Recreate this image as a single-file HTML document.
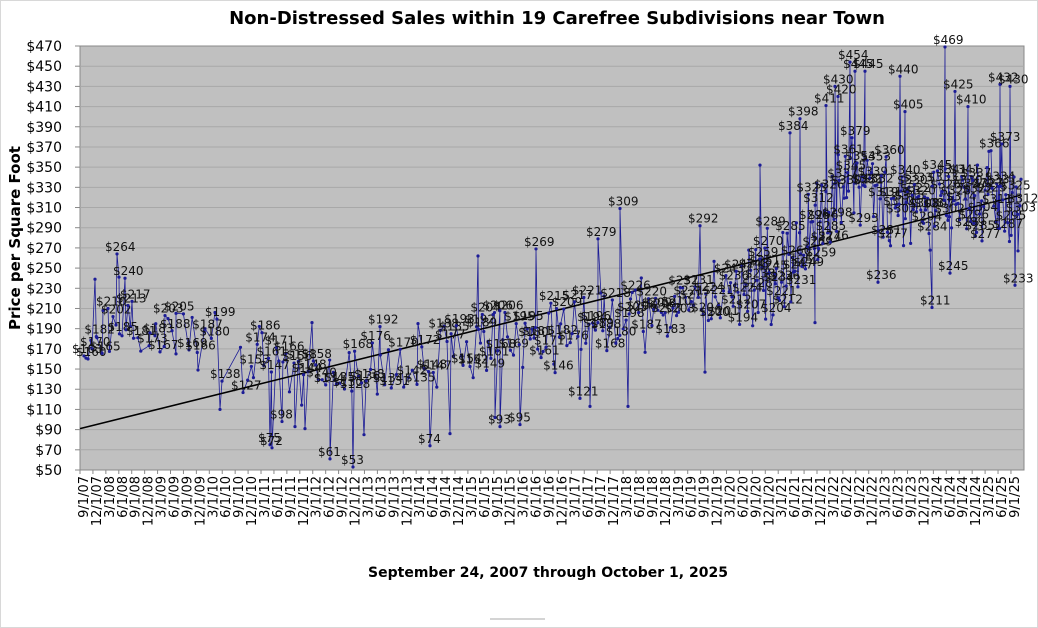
<!DOCTYPE html>
<html><head><meta charset="utf-8"><style>
body{margin:0;background:#fff;}
svg{display:block;font-family:"DejaVu Sans","Liberation Sans",sans-serif;}
</style></head><body>
<svg id="s" width="1038" height="628" viewBox="0 0 1038 628">
<rect x="0.5" y="0.5" width="1037" height="627" fill="#fff" stroke="#d8d8d8"/>
<text x="557" y="24" text-anchor="middle" font-size="18" font-weight="bold">Non-Distressed Sales within 19 Carefree Subdivisions near Town</text>
<text transform="translate(20,238) rotate(-90)" text-anchor="middle" font-size="15" font-weight="bold">Price per Square Foot</text>
<text x="548" y="577" text-anchor="middle" font-size="14" font-weight="bold">September 24, 2007 through October 1, 2025</text>
<rect x="80" y="46" width="944" height="424" fill="#c0c0c0" stroke="#888"/>
<g id="grid"></g><g id="yl"></g><g id="xl"></g><g id="data"></g>
<g stroke="#aaa" fill="none"><line x1="490" y1="619" x2="545" y2="619"/></g>
</svg>
<script>
var NS="http://www.w3.org/2000/svg";
function el(p,t,a,txt){var e=document.createElementNS(NS,t);for(var k in a)e.setAttribute(k,a[k]);if(txt!=null)e.textContent=txt;p.appendChild(e);return e;}
function Y(v){return 470-(v-50)*424/420;}
var g=document.getElementById('grid'),yl=document.getElementById('yl'),xl=document.getElementById('xl'),d=document.getElementById('data');
for(var v=50;v<=470;v+=20){var y=Y(v);if(v>50&&v<470)el(g,'line',{x1:80,x2:1024,y1:y,y2:y,stroke:'#a8a8a8','stroke-width':1});
el(g,'line',{x1:75,x2:80,y1:y,y2:y,stroke:'#888'});
el(yl,'text',{x:62,y:y+5,'text-anchor':'end','font-size':14},'$'+v);}
for(var i=0;i<73;i++){var x=83+i*12.93;var mm=[9,12,3,6][i%4];var yy=7+Math.floor((i+2)/4);
var s=mm+'/1/'+(yy<10?'0':'')+yy;
el(g,'line',{x1:x-3,x2:x-3,y1:470,y2:474,stroke:'#888'});
el(xl,'text',{transform:'translate('+(x+5)+',476) rotate(-90)','text-anchor':'end','font-size':13},s);}
var seed=11;function r(){seed=(seed*16807)%2147483647;return seed/2147483647;}
var cc=[[80,180],[140,190],[200,170],[240,160],[300,150],[360,145],[420,150],[480,180],[560,185],[620,200],[700,215],[740,225],[780,240],[820,300],[860,330],[900,320],[960,320],[1024,320]];
function cen(x){for(var i=1;i<cc.length;i++){if(x<=cc[i][0]){var a=cc[i-1],b=cc[i];return a[1]+(b[1]-a[1])*(x-a[0])/(b[0]-a[0]);}}return 320;}
var pts=[[84,163],[88,160],[92,170],[95,239],[97,181],[103,208],[108,210],[113,202],[117,264],[119,241],[122,183],[125,240],[128,213],[132,217],[138,181],[150,186],[155,183],[160,167],[165,203],[168,200],[176,165],[198,149],[205,190],[215,206],[220,110],[222,138],[262,186],[270,75],[272,72],[282,98],[295,93],[305,91],[312,196],[330,61],[353,53],[364,85],[380,192],[418,195],[430,74],[450,86],[478,262],[495,102],[500,93],[520,95],[536,269],[580,121],[590,113],[598,279],[620,309],[628,113],[700,292],[705,147],[760,352],[790,384],[800,398],[815,196],[826,411],[835,430],[838,420],[850,454],[855,445],[865,445],[878,236],[900,440],[905,405],[932,211],[945,469],[950,245],[955,425],[968,410],[982,277],[1000,432],[998,290],[1010,430],[1015,233],[1018,267],[1021,338]];
var x=86;
while(x<1020){var dens=(x<240)?6:(x<470?3.5:(x<730?2.4:1.5));
if(x>222&&x<240){x+=3;continue;}
var sp=x<470?28:(x<740?32:45);
var v=cen(x)+(r()+r()-1)*sp*1.3;
pts.push([x,Math.max(55,Math.min(465,v))]);x+=dens*(0.5+r());}
pts.sort(function(a,b){return a[0]-b[0];});
var dstr='';pts.forEach(function(p,i){dstr+=(i?'L':'M')+p[0].toFixed(1)+','+Y(p[1]).toFixed(1);});
el(d,'path',{d:dstr,fill:'none',stroke:'#1c1c96','stroke-width':0.8});
el(d,'line',{x1:80,y1:Y(91),x2:1020,y2:Y(322),stroke:'#000','stroke-width':1.5});
pts.forEach(function(p,i){el(d,'circle',{cx:p[0],cy:Y(p[1]),r:1.6,fill:'#1c1c96'});
if(i%2==0||p[1]>400||p[1]<80)el(d,'text',{x:p[0]-12,y:Y(p[1])-3,'font-size':12,fill:'#111'},'$'+Math.round(p[1]));});
</script>
</body></html>
